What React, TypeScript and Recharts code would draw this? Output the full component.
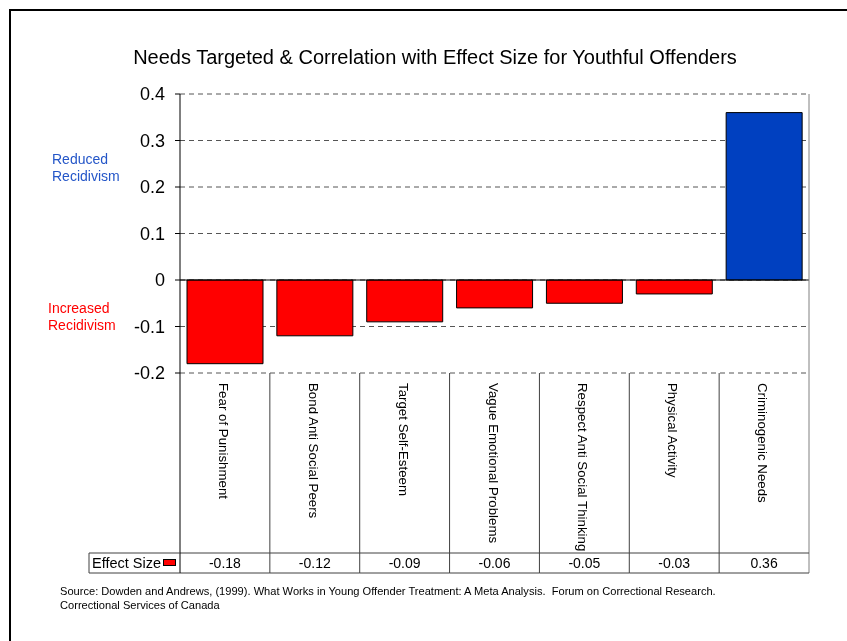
import React from 'react';
import { BarChart, Bar, XAxis, YAxis, CartesianGrid, ReferenceLine, Cell } from 'recharts';

const categories = [
  'Fear of Punishment',
  'Bond Anti Social Peers',
  'Target Self-Esteem',
  'Vague Emotional Problems',
  'Respect Anti Social Thinking',
  'Physical Activity',
  'Criminogenic Needs',
];
const effectSizes = [-0.18, -0.12, -0.09, -0.06, -0.05, -0.03, 0.36];
const valueLabels = ['-0.18', '-0.12', '-0.09', '-0.06', '-0.05', '-0.03', '0.36'];
const yTicks = [-0.2, -0.1, 0, 0.1, 0.2, 0.3, 0.4];
const titleText = 'Needs Targeted & Correlation with Effect Size for Youthful Offenders';
const seriesName = 'Effect Size';
const sourceLines = [
  'Source: Dowden and Andrews, (1999). What Works in Young Offender Treatment: A Meta Analysis.  Forum on Correctional Research.',
  'Correctional Services of Canada',
];

const data = categories.map((c, i) => ({ name: c, value: effectSizes[i] }));

const FONT = '"Liberation Sans", Arial, Helvetica, sans-serif';
const W = 831;
const H = 625;
const PLOT_LEFT = 172;
const PLOT_TOP = 86;
const PLOT_RIGHT = 801;
const PLOT_BOTTOM = 365;
const ROW_TOP = 545;
const TABLE_BOTTOM = 565;
const HEADER_LEFT = 81;
const BW = (PLOT_RIGHT - PLOT_LEFT) / categories.length;
const TABLE_STROKE = '#404040';
const RED = '#FF0000';
const BLUE = '#0040C0';

function CategoryTick(props: any) {
  const { x, index, payload } = props;
  const left = x - BW / 2;
  const right = x + BW / 2;
  const last = index === categories.length - 1;
  return (
    <g>
      <text
        transform={`translate(${x - 1.5},${PLOT_BOTTOM + 10}) rotate(90)`}
        textAnchor="start"
        dominantBaseline="central"
        fontSize={13.3}
        fontFamily={FONT}
        fill="#000"
      >
        {payload.value}
      </text>
      <line
        x1={right}
        y1={last ? PLOT_TOP : PLOT_BOTTOM}
        x2={right}
        y2={TABLE_BOTTOM}
        stroke={last ? '#808080' : TABLE_STROKE}
        strokeWidth={1}
      />
      <line x1={left} y1={ROW_TOP} x2={right} y2={ROW_TOP} stroke={TABLE_STROKE} />
      <line x1={left} y1={TABLE_BOTTOM} x2={right} y2={TABLE_BOTTOM} stroke={TABLE_STROKE} />
      <text
        x={x}
        y={(ROW_TOP + TABLE_BOTTOM) / 2}
        textAnchor="middle"
        dominantBaseline="central"
        fontSize={14}
        fontFamily={FONT}
        fill="#000"
      >
        {valueLabels[index]}
      </text>
      {index === 0 && (
        <g>
          <line x1={left} y1={PLOT_BOTTOM} x2={left} y2={TABLE_BOTTOM} stroke="#000" />
          <line x1={HEADER_LEFT} y1={ROW_TOP} x2={left} y2={ROW_TOP} stroke={TABLE_STROKE} />
          <line x1={HEADER_LEFT} y1={TABLE_BOTTOM} x2={left} y2={TABLE_BOTTOM} stroke={TABLE_STROKE} />
          <line x1={HEADER_LEFT} y1={ROW_TOP} x2={HEADER_LEFT} y2={TABLE_BOTTOM} stroke={TABLE_STROKE} />
          <text
            x={HEADER_LEFT + 3}
            y={(ROW_TOP + TABLE_BOTTOM) / 2}
            textAnchor="start"
            dominantBaseline="central"
            fontSize={14.5}
            fontFamily={FONT}
            fill="#000"
          >
            {seriesName}
          </text>
          <rect x={left - 16.5} y={ROW_TOP + 6.5} width={12} height={6} fill={RED} stroke="#000" strokeWidth={1} />
        </g>
      )}
    </g>
  );
}

export default function App() {
  return (
    <div style={{ position: 'relative', width: W, height: H, overflow: 'hidden', background: '#fff', fontFamily: FONT }}>
      <div
        style={{
          position: 'fixed',
          left: 9,
          top: 9,
          width: 1000,
          height: 1000,
          border: '2px solid #000',
          pointerEvents: 'none',
        }}
      />
      <div
        style={{
          position: 'absolute',
          left: 0,
          width: 854,
          top: 38,
          textAlign: 'center',
          fontSize: 20,
          lineHeight: '22px',
          whiteSpace: 'nowrap',
          color: '#000',
        }}
      >
        {titleText}
      </div>
      <div style={{ position: 'absolute', left: 44, top: 143, fontSize: 14, lineHeight: '16.7px', color: '#2456C8' }}>
        Reduced
        <br />
        Recidivism
      </div>
      <div style={{ position: 'absolute', left: 40, top: 292, fontSize: 14, lineHeight: '16.7px', color: '#FF0000' }}>
        Increased
        <br />
        Recidivism
      </div>
      <div
        style={{
          position: 'absolute',
          left: 52,
          top: 576,
          fontSize: 11.1,
          lineHeight: '14px',
          color: '#000',
          whiteSpace: 'pre',
        }}
      >
        {sourceLines[0]}
        <br />
        {sourceLines[1]}
      </div>
      <div style={{ position: 'absolute', left: 0, top: 0 }}>
        <BarChart
          width={W}
          height={H}
          data={data}
          margin={{ top: PLOT_TOP, right: W - PLOT_RIGHT, left: 0, bottom: H - TABLE_BOTTOM }}
          barSize={76}
        >
          <CartesianGrid vertical={false} stroke="#555" strokeDasharray="5 4" />
          <XAxis
            dataKey="name"
            height={TABLE_BOTTOM - PLOT_BOTTOM}
            axisLine={false}
            tickLine={false}
            interval={0}
            tick={<CategoryTick />}
          />
          <YAxis
            width={PLOT_LEFT}
            domain={[-0.2, 0.4]}
            ticks={yTicks}
            interval={0}
            tickFormatter={(v: number) => String(v)}
            axisLine={{ stroke: '#000' }}
            tickLine={{ stroke: '#000' }}
            tickSize={5}
            tickMargin={10}
            tick={{ fontSize: 18, fill: '#000', fontFamily: FONT }}
          />
          <Bar dataKey="value" isAnimationActive={false} stroke="#000" strokeWidth={1}>
            {data.map((d, i) => (
              <Cell key={i} fill={d.value >= 0 ? BLUE : RED} />
            ))}
          </Bar>
          <ReferenceLine y={0} stroke="#000" strokeWidth={1} />
        </BarChart>
      </div>
    </div>
  );
}
